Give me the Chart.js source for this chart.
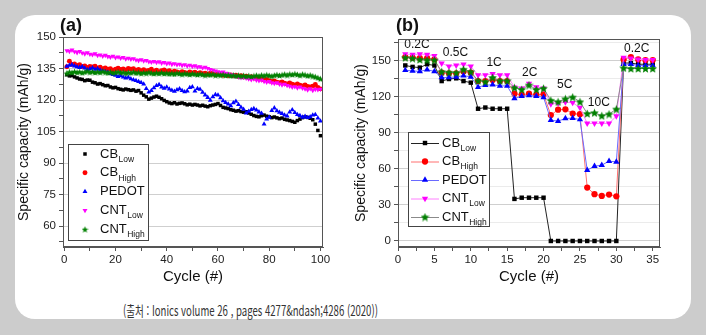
<!DOCTYPE html>
<html lang="ko">
<head>
  <meta charset="UTF-8" />
  <title>Specific capacity vs. cycle</title>
  <script src="https://cdn.jsdelivr.net/npm/chart.js"></script>
  <style>
    * { box-sizing: border-box; margin: 0; padding: 0; }
    body {
      width: 706px;
      height: 335px;
      background: #cccccc;
      overflow: hidden;
      font-family: 'Liberation Sans', Arial, sans-serif;
    }
    #panel {
      position: absolute;
      left: 15px;
      top: 15px;
      width: 676px;
      height: 304px;
      background: #ffffff;
      border-radius: 20px;
    }
    .plot { position: absolute; top: 0; }
    #plotA { left: 0; }
    #plotB { left: 330px; }
    .tag {
      position: absolute;
      top: 0;
      font: bold 18px 'Liberation Sans', Arial, sans-serif;
      color: #111;
    }
    #caption {
      position: absolute;
      left: 108px;
      top: 285px;
      font: 14px 'Noto Sans CJK KR', 'Noto Sans', sans-serif;
      color: #333;
      white-space: nowrap;
      transform-origin: 0 50%;
    }
  </style>
</head>
<body>
  <div id="panel">
    <canvas id="plotA" class="plot" width="325" height="280"></canvas>
    <canvas id="plotB" class="plot" width="330" height="280"></canvas>
    <div class="tag" style="left:45px">(a)</div>
    <div class="tag" style="left:381px">(b)</div>
    <div id="caption">(출처 : Ionics volume 26 , pages 4277&amp;ndash;4286 (2020))</div>
  </div>

  <script>
    const FONT = "'Liberation Sans', Arial, sans-serif";

    // ---- (a) cycling at constant rate, 100 cycles ----
    const CYCLES_A = Array.from({ length: 100 }, (_, i) => i + 1);

    const CB_LOW_A = [
      132.0, 131.5, 131.6, 131.0, 130.5, 130.0, 129.8, 129.2, 129.5, 129.4,
      128.5, 128.2, 127.6, 127.8, 127.3, 126.8, 126.9, 126.2, 125.8, 126.0,
      125.4, 125.1, 124.8, 125.2, 124.9, 124.6, 124.8, 124.2, 124.5, 123.4,
      122.3, 121.5, 120.4, 120.9, 121.4, 121.8, 121.3, 120.6, 119.8, 119.2,
      118.6, 118.3, 118.7, 118.1, 118.4, 118.6, 118.2, 117.7, 118.0, 117.6,
      117.9, 117.6, 117.2, 117.5, 117.1, 116.8, 117.3, 117.6, 117.9, 118.3,
      117.4, 116.5, 116.2, 115.9, 115.4, 115.1, 114.7, 114.9, 114.5, 114.2,
      114.4, 113.8, 113.2, 112.6, 112.2, 112.0, 112.5, 112.8, 112.3, 112.0,
      111.6, 111.9, 111.5, 111.1, 111.4, 110.8, 110.5, 110.2, 109.8, 109.4,
      110.2, 110.9, 111.6, 112.0, 111.7, 111.3, 110.6, 108.5, 105.5, 103.0
    ];
    const CB_HIGH_A = [
      135.8, 138.5, 136.9, 137.2, 136.4, 136.8, 135.9, 136.2, 135.5, 136.0,
      135.7, 136.1, 135.2, 135.6, 134.9, 135.3, 134.6, 134.9, 134.2, 134.7,
      135.1, 134.5, 134.8, 134.3, 135.0, 134.6, 134.9, 134.2, 134.5, 134.0,
      134.4, 133.8, 134.1, 134.6, 133.7, 134.2, 133.5, 133.9, 134.3, 133.6,
      133.9, 133.2, 133.7, 133.4, 133.0, 133.5, 133.1, 132.8, 133.3, 132.9,
      133.2, 132.6, 133.0, 132.5, 132.8, 132.3, 132.7, 132.4, 132.0, 132.5,
      132.2, 131.8, 132.1, 131.6, 131.9, 131.5, 131.8, 131.2, 131.6, 131.0,
      131.3, 130.8, 131.1, 130.5, 130.2, 130.6, 129.9, 129.5, 129.8, 129.2,
      128.8, 129.1, 128.5, 128.2, 128.6, 128.0, 127.6, 128.1, 127.5, 127.2,
      127.6, 127.0, 126.7, 127.1, 126.5, 126.2, 126.6, 127.4, 126.0, 125.3
    ];
    const PEDOT_A = [
      136.0, 136.5, 136.8, 136.2, 135.8, 135.5, 135.9, 135.2, 134.5, 134.8,
      135.3, 134.6, 134.9, 134.2, 133.8, 133.5, 133.2, 132.6, 132.1, 131.8,
      131.2, 131.6, 130.9, 130.5, 130.8, 130.1, 129.6, 129.2, 128.8, 128.3,
      127.6, 125.4, 123.8, 124.5, 125.8, 126.9, 127.3, 126.2, 125.6, 126.1,
      125.2, 124.6, 124.1, 124.8, 125.3, 124.5, 123.9, 124.3, 125.9, 126.3,
      124.2, 125.4, 125.1, 123.6, 122.4, 121.2, 119.8, 121.5, 122.6, 122.3,
      121.0, 119.6, 118.8, 118.1, 117.2, 118.6, 119.4, 117.8, 116.5, 115.6,
      113.8, 114.6, 115.4, 115.9, 115.2, 114.3, 113.6, 108.5, 110.9, 111.8,
      115.0, 116.2, 114.8, 114.1, 113.5, 112.8, 112.4, 114.2, 115.3, 114.0,
      113.1, 112.6, 111.8, 112.2, 111.6, 112.0, 112.8, 113.1, 111.4, 110.0
    ];
    const CNT_LOW_A = [
      143.5, 143.2, 143.8, 143.0, 142.6, 143.1, 142.4, 142.0, 142.5, 141.8,
      141.6, 142.0, 141.2, 141.5, 140.9, 141.3, 140.7, 140.4, 140.9, 140.2,
      140.5, 139.9, 140.3, 139.6, 139.9, 139.4, 139.7, 139.1, 138.8, 139.2,
      138.6, 138.9, 138.3, 138.0, 138.4, 137.9, 138.2, 137.6, 137.9, 137.3,
      137.6, 137.0, 137.3, 136.8, 137.1, 136.5, 136.8, 136.2, 136.6, 136.0,
      136.3, 135.7, 135.9, 135.3, 135.6, 135.0, 134.6, 134.2, 133.9, 133.5,
      133.1, 133.4, 132.8, 132.5, 132.1, 131.8, 131.4, 131.0, 130.7, 130.9,
      130.4, 130.0, 129.7, 130.1, 129.5, 129.2, 129.5, 128.9, 128.5, 128.8,
      128.2, 127.9, 128.3, 127.6, 127.2, 127.5, 126.9, 126.6, 126.1, 126.4,
      125.8, 126.2, 125.6, 125.3, 124.8, 125.4, 124.6, 125.1, 124.9, 125.2
    ];
    const CNT_HIGH_A = [
      132.8, 133.4, 133.1, 133.6, 133.2, 133.5, 133.0, 133.4, 133.8, 133.3,
      133.6, 133.1, 133.5, 133.2, 133.7, 133.3, 133.0, 133.4, 132.9, 133.2,
      133.5, 133.1, 133.3, 132.8, 133.2, 133.0, 133.4, 132.9, 133.2, 132.7,
      133.1, 132.8, 133.3, 132.9, 132.6, 133.0, 132.7, 133.1, 132.6, 132.9,
      132.5, 132.8, 132.4, 132.9, 132.6, 132.3, 132.7, 132.5, 132.2, 132.6,
      132.4, 132.1, 132.5, 132.2, 131.9, 132.3, 132.0, 132.4, 131.8, 132.1,
      131.9, 132.2, 131.7, 132.0, 131.6, 131.9, 131.5, 131.8, 131.4, 131.7,
      131.3, 131.6, 131.2, 131.5, 131.8, 131.4, 131.9, 131.6, 132.0, 131.7,
      131.4, 131.8, 132.1, 131.7, 132.0, 132.3, 131.9, 132.4, 132.1, 132.5,
      132.2, 131.8, 132.3, 132.0, 131.6, 131.9, 131.4, 131.1, 130.6, 130.1
    ];

    const A_X_TICKS = [0, 10, 20, 30, 40, 50, 60, 70, 80, 90, 100];
    const A_X_LABELS = [0, 20, 40, 60, 80, 100];
    const A_Y_TICKS = [52.5, 60, 67.5, 75, 82.5, 90, 97.5, 105, 112.5, 120, 127.5, 135, 142.5, 150];
    const A_Y_LABELS = [60, 75, 90, 105, 120, 135, 150];

    // ---- (b) rate capability, 5 cycles per C-rate ----
    const CYCLES_B = [1, 2, 3, 4, 5, 6, 7, 8, 9, 10, 11, 12, 13, 14, 15, 16, 17, 18,
                      19, 20, 21, 22, 23, 24, 25, 26, 27, 28, 29, 30, 31, 32, 33, 34, 35];

    const CB_LOW_B = [
      146, 144.8, 144.2, 147, 146,
      133, 134.7, 135.3, 133, 131.7,
      110, 111, 110, 110, 110,
      35, 36, 36, 36, 36,
      0, 0, 0, 0, 0,
      0, 0, 0, 0, 0,
      148, 148, 147, 147, 147
    ];
    const CB_HIGH_B = [
      153, 152.5, 152, 152, 151,
      140, 139.5, 139.5, 141, 140,
      133, 133, 134, 133, 133,
      122.5, 121.5, 122.5, 121.5, 122,
      104.7, 109.2, 109.5, 106, 105.5,
      44.4, 38.9, 37.5, 38.6, 37.2,
      151, 153, 151, 150.5, 150.5
    ];
    const PEDOT_B = [
      142, 141.5, 141, 142.5, 141,
      136, 136, 136.5, 137.5, 136.5,
      128, 129.5, 130, 129, 129,
      118.6, 120.5, 121, 120.5, 119.5,
      100.5, 99.7, 101.9, 102.2, 101,
      58.9, 62.2, 63.1, 66.4, 65.8,
      147, 147, 146, 146, 146
    ];
    const CNT_LOW_B = [
      155.5, 155, 155.5, 155, 154,
      147.8, 145.3, 146.1, 146.9, 145.3,
      138, 138, 139, 138, 138,
      127.8, 127, 131, 128, 127,
      113.9, 114.5, 115.5, 115, 111,
      97.8, 97.8, 97.8, 97.8, 103.9,
      152.5, 152, 151.1, 150.6, 150.6
    ];
    const CNT_HIGH_B = [
      152.5, 152, 151, 150.5, 150.5,
      140.8, 140.3, 140, 142.8, 140.8,
      133.3, 132.5, 136, 133.3, 133.3,
      127.5, 126, 129.7, 126, 127,
      117, 115.8, 118.3, 119.7, 115.8,
      106, 106.7, 104.2, 105.6, 109.7,
      144, 143.5, 143.5, 143.5, 143.5
    ];

    const B_X_TICKS = [0, 2.5, 5, 7.5, 10, 12.5, 15, 17.5, 20, 22.5, 25, 27.5, 30, 32.5, 35];
    const B_X_LABELS = [0, 5, 10, 15, 20, 25, 30, 35];
    const B_Y_TICKS = [0, 15, 30, 45, 60, 75, 90, 105, 120, 135, 150, 165];
    const B_Y_LABELS = [0, 30, 60, 90, 120, 150];

    // C-rate annotations above each block
    const RATE_TEXT = ['0.2C', '0.5C', '1C', '2C', '5C', '10C', '0.2C'];
    const RATE_AT_CYCLE = [2.6, 7.9, 13.2, 18.1, 22.9, 27.6, 32.8];
    const RATE_AT_CAPACITY = [163, 156.5, 148, 140, 130, 115, 160];

    const SERIES_NAMES = [['CB', 'Low'], ['CB', 'High'], ['PEDOT', ''], ['CNT', 'Low'], ['CNT', 'High']];
    const COLORS = ['#000000', '#ff0000', '#0000ff', '#ff00ff', '#008000'];
    const LINE_COLORS = ['#222222', '#ff7070', '#6a6aff', '#ff80ff', '#8a8a8a'];

    // filled five-point star, used for the CNT_High symbol
    function starMarker(size, color) {
      const c = document.createElement('canvas');
      c.width = c.height = size;
      const g = c.getContext('2d');
      const r = size / 2, ri = r * 0.45;
      g.beginPath();
      for (let i = 0; i < 10; i++) {
        const a = -Math.PI / 2 + i * Math.PI / 5;
        const rr = i % 2 ? ri : r;
        g.lineTo(r + rr * Math.cos(a), r + 0.5 + rr * Math.sin(a));
      }
      g.closePath();
      g.fillStyle = color;
      g.fill();
      return c;
    }

    function markers(radius) {
      return [
        { pointStyle: 'rect', radius: radius * 0.95, rotation: 0 },
        { pointStyle: 'circle', radius: radius * 0.95, rotation: 0 },
        { pointStyle: 'triangle', radius: radius * 1.1, rotation: 0 },
        { pointStyle: 'triangle', radius: radius * 1.1, rotation: 180 },
        { pointStyle: starMarker(Math.round(radius * 2.8), COLORS[4]), radius: radius, rotation: 0 }
      ];
    }

    function buildDatasets(cycles, seriesList, radius, withLines) {
      const mk = markers(radius);
      return seriesList.map((values, i) => ({
        label: SERIES_NAMES[i].join(''),
        data: values.map((v, j) => ({ x: cycles[j], y: v })),
        showLine: withLines,
        borderColor: withLines ? LINE_COLORS[i] : COLORS[i],
        borderWidth: 1,
        backgroundColor: COLORS[i],
        pointBackgroundColor: COLORS[i],
        pointBorderColor: COLORS[i],
        pointBorderWidth: 0,
        pointStyle: mk[i].pointStyle,
        pointRadius: mk[i].radius,
        pointRotation: mk[i].rotation,
        order: seriesList.length - i
      }));
    }

    function buildScales(cfg) {
      const tickFont = { family: FONT, size: 11.5 };
      return {
        x: {
          type: 'linear',
          min: cfg.xMin,
          max: cfg.xMax,
          afterFit: s => { s.height = 48; },
          afterBuildTicks: s => { s.ticks = cfg.xTicks.map(v => ({ value: v })); },
          ticks: {
            autoSkip: false, maxRotation: 0, padding: 2, color: '#222', font: tickFont,
            callback: v => cfg.xLabels.includes(v) ? String(v) : ''
          },
          grid: { drawOnChartArea: false, tickLength: 4, tickColor: '#555' },
          border: { color: '#555' },
          title: {
            display: true, text: 'Cycle (#)', color: '#111',
            font: { family: FONT, size: 15 }, padding: { top: 0, bottom: 9 }
          }
        },
        y: {
          type: 'linear',
          min: cfg.yMin,
          max: cfg.yMax,
          afterFit: s => { s.width = cfg.yWidth; },
          afterBuildTicks: s => { s.ticks = cfg.yTicks.map(v => ({ value: v })); },
          ticks: {
            autoSkip: false, padding: 3, color: '#222', font: tickFont,
            callback: v => cfg.yLabels.includes(v) ? String(v) : ''
          },
          grid: {
            tickLength: 4,
            tickColor: '#555',
            color: ctx => {
              const v = ctx.tick ? ctx.tick.value : null;
              if (cfg.yLabels.includes(v)) return '#cfcfcf';
              return cfg.minorGrid ? '#ebebeb' : 'rgba(0,0,0,0)';
            }
          },
          border: { color: '#555' },
          title: {
            display: true, text: 'Specific capacity (mAh/g)', color: '#111',
            font: { family: FONT, size: 14 }, padding: { top: cfg.yTitlePad, bottom: 0 }
          }
        }
      };
    }

    // closes the plot frame on the top and right sides
    const framePlugin = {
      id: 'frame',
      afterDraw(chart) {
        const { ctx, chartArea: a } = chart;
        ctx.save();
        ctx.strokeStyle = '#555';
        ctx.lineWidth = 1;
        ctx.strokeRect(Math.round(a.left) + 0.5, Math.round(a.top) + 0.5,
                       Math.round(a.right - a.left) - 1, Math.round(a.bottom - a.top) - 1);
        ctx.restore();
      }
    };

    // legend with subscripted names, drawn inside the plot area
    function legendPlugin(box) {
      return {
        id: 'subLegend',
        afterDraw(chart) {
          const ctx = chart.ctx;
          ctx.save();
          ctx.fillStyle = '#fff';
          ctx.fillRect(box.x, box.y, box.w, box.h);
          ctx.strokeStyle = '#444';
          ctx.lineWidth = 1;
          ctx.strokeRect(box.x + 0.5, box.y + 0.5, box.w, box.h);
          chart.data.datasets.forEach((ds, i) => {
            const cy = box.y + box.firstRow + i * box.rowGap;
            if (box.lineTo) {
              ctx.strokeStyle = ds.borderColor;
              ctx.beginPath();
              ctx.moveTo(box.x + box.lineFrom, cy + 0.5);
              ctx.lineTo(box.x + box.lineTo, cy + 0.5);
              ctx.stroke();
            }
            ctx.fillStyle = ds.pointBackgroundColor;
            Chart.helpers.drawPoint(ctx, {
              pointStyle: ds.pointStyle, radius: ds.pointRadius,
              rotation: ds.pointRotation, borderWidth: 0
            }, box.x + box.markX, cy);
            const [main, sub] = SERIES_NAMES[i];
            ctx.fillStyle = '#111';
            ctx.textBaseline = 'middle';
            ctx.font = '13px ' + FONT;
            ctx.fillText(main, box.x + box.textX, cy);
            if (sub) {
              const w = ctx.measureText(main).width;
              ctx.font = '8.5px ' + FONT;
              ctx.fillText(sub, box.x + box.textX + w + 0.5, cy + 5.5);
            }
          });
          ctx.restore();
        }
      };
    }

    const rateLabelPlugin = {
      id: 'rateLabels',
      afterDatasetsDraw(chart) {
        const { ctx, scales } = chart;
        ctx.save();
        ctx.fillStyle = '#111';
        ctx.font = '12px ' + FONT;
        ctx.textAlign = 'center';
        ctx.textBaseline = 'middle';
        RATE_TEXT.forEach((t, i) => {
          ctx.fillText(t, scales.x.getPixelForValue(RATE_AT_CYCLE[i]),
                       scales.y.getPixelForValue(RATE_AT_CAPACITY[i]));
        });
        ctx.restore();
      }
    };

    function makeChart(id, datasets, scales, padding, plugins) {
      return new Chart(document.getElementById(id), {
        type: 'scatter',
        data: { datasets },
        options: {
          responsive: false,
          animation: false,
          devicePixelRatio: 1,
          layout: { padding },
          plugins: { legend: { display: false }, tooltip: { enabled: false } },
          scales
        },
        plugins
      });
    }

    makeChart('plotA',
      buildDatasets(CYCLES_A, [CB_LOW_A, CB_HIGH_A, PEDOT_A, CNT_LOW_A, CNT_HIGH_A], 2.6, false),
      buildScales({
        xMin: -0.5, xMax: 101, xTicks: A_X_TICKS, xLabels: A_X_LABELS,
        yMin: 50, yMax: 150, yTicks: A_Y_TICKS, yLabels: A_Y_LABELS,
        yWidth: 48, yTitlePad: 1, minorGrid: false
      }),
      { left: 0, top: 22, right: 17, bottom: 0 },
      [framePlugin, legendPlugin({ x: 53, y: 129, w: 80, h: 96, firstRow: 10, rowGap: 18.8, markX: 17, textX: 32 })]
    );

    makeChart('plotB',
      buildDatasets(CYCLES_B, [CB_LOW_B, CB_HIGH_B, PEDOT_B, CNT_LOW_B, CNT_HIGH_B], 3.3, true),
      buildScales({
        xMin: 0, xMax: 36, xTicks: B_X_TICKS, xLabels: B_X_LABELS,
        yMin: -5, yMax: 168, yTicks: B_Y_TICKS, yLabels: B_Y_LABELS,
        yWidth: 53, yTitlePad: 8, minorGrid: true
      }),
      { left: 0, top: 24, right: 15, bottom: 0 },
      [framePlugin, rateLabelPlugin, legendPlugin({ x: 63, y: 117, w: 81, h: 94, firstRow: 11, rowGap: 18.5, lineFrom: 3, lineTo: 31, markX: 17, textX: 34 })]
    );

    // squeeze the source line to the narrow width it is set in
    const caption = document.getElementById('caption');
    caption.style.transform = 'scaleX(' + (255 / caption.offsetWidth).toFixed(3) + ')';
  </script>
</body>
</html>
